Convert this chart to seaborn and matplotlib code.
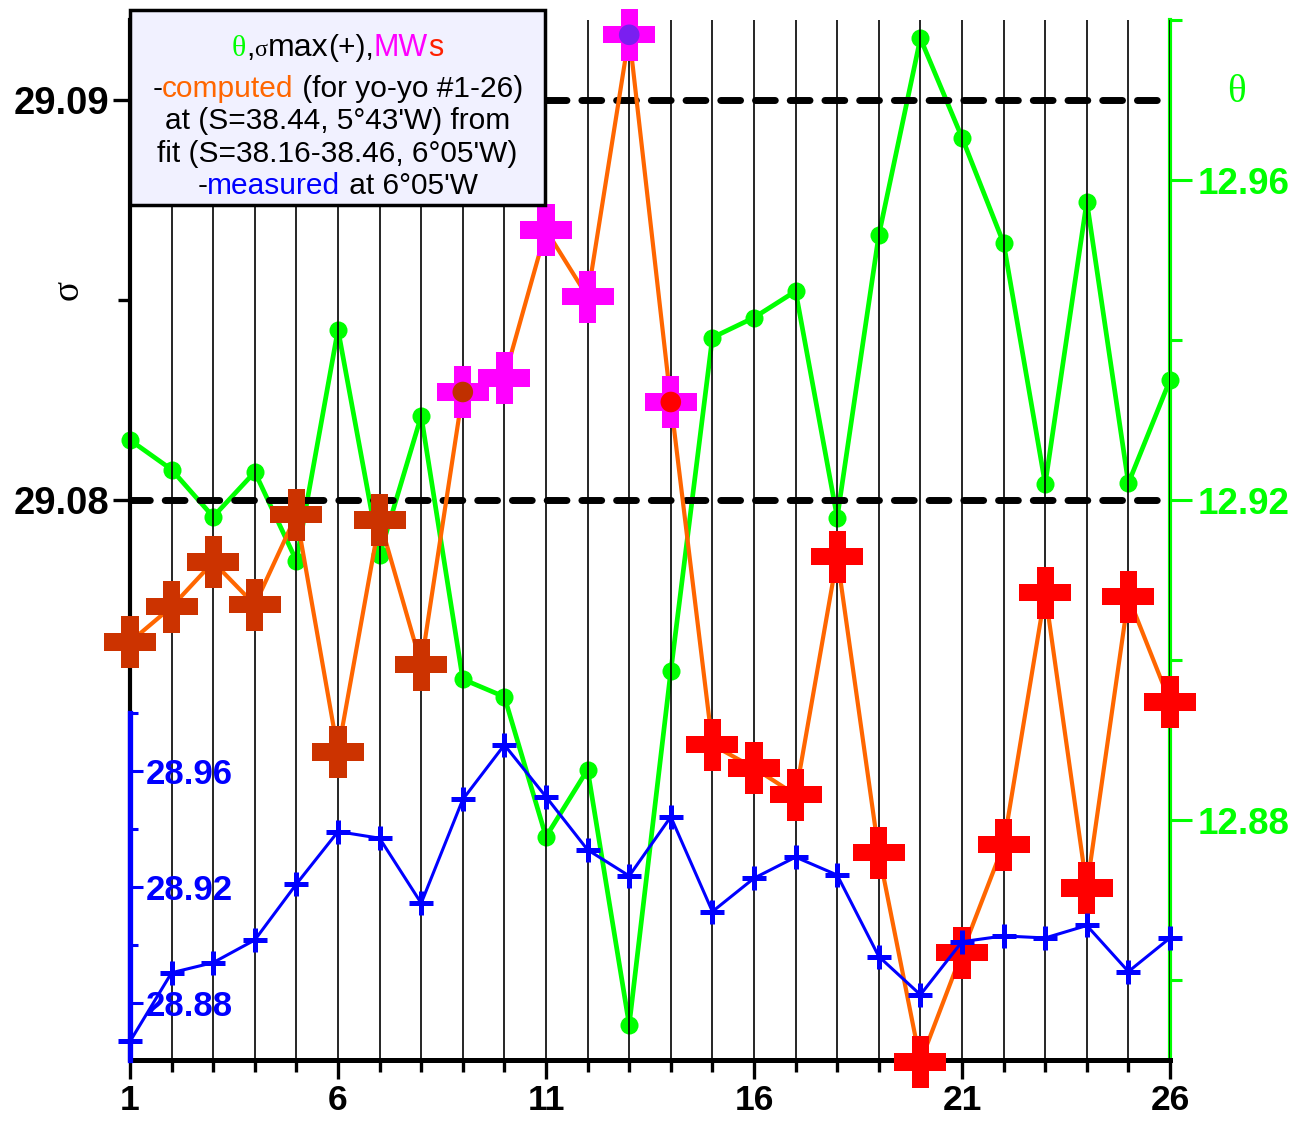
import matplotlib
matplotlib.use("Agg")
import matplotlib.pyplot as plt
import seaborn as sns
from matplotlib.offsetbox import TextArea, HPacker, AnchoredOffsetbox
from matplotlib.patches import Rectangle
from matplotlib.ticker import FixedLocator

# ---------------- data ----------------
yoyo = [1, 2, 3, 4, 5, 6, 7, 8, 9, 10, 11, 12, 13,
        14, 15, 16, 17, 18, 19, 20, 21, 22, 23, 24, 25, 26]
x_major_ticks = [1, 6, 11, 16, 21, 26]

sigma_computed = [29.07645, 29.07733, 29.07845, 29.07738, 29.07963, 29.07370,
                  29.07950, 29.07588, 29.08270, 29.08305, 29.08675, 29.08508,
                  29.09163, 29.08245, 29.07388, 29.07330, 29.07263, 29.07858,
                  29.07118, 29.06595, 29.06868, 29.07138, 29.07768, 29.07030,
                  29.07758, 29.07495]

theta = [12.9275, 12.9238, 12.9179, 12.9235, 12.9124, 12.9413, 12.9131,
         12.9305, 12.8976, 12.8954, 12.8779, 12.8863, 12.8544, 12.8986,
         12.9403, 12.9428, 12.9461, 12.9178, 12.9531, 12.9777, 12.9653,
         12.9521, 12.9220, 12.9573, 12.9221, 12.9350]

sigma_measured = [28.8667, 28.8904, 28.8939, 28.9017, 28.9210, 28.9391,
                  28.9368, 28.9144, 28.9502, 28.9690, 28.9511, 28.9328,
                  28.9238, 28.9442, 28.9115, 28.9230, 28.9303, 28.9241,
                  28.8960, 28.8828, 28.9011, 28.9031, 28.9024, 28.9067,
                  28.8908, 28.9024]

cross_class = ["a", "a", "a", "a", "a", "a", "a", "a",
               "MW", "MW", "MW", "MW", "MW", "MW",
               "b", "b", "b", "b", "b", "b", "b", "b", "b", "b", "b", "b"]
cross_palette = {"a": "#CC3300", "MW": "#FF00FF", "b": "#FF0000"}

dot_yoyo = [9, 13, 14]
dot_class = ["brown", "purple", "red"]
dot_palette = {"brown": "#C03000", "purple": "#7A1FF0", "red": "#FF0000"}

sigma_ref_lines = [29.08, 29.09]
sigma_ticks = [29.08, 29.09]
sigma_minor = [29.085]
theta_ticks = [12.88, 12.92, 12.96]
theta_minor = [12.86, 12.90, 12.94, 12.98]
meas_ticks = [28.88, 28.92, 28.96]
meas_minor = [28.90, 28.94, 28.98]

# ---------------- style ----------------
sns.set_theme(style="white")
plt.rcParams["font.family"] = ["Liberation Sans", "DejaVu Sans"]

W, H = 1303, 1122
fig = plt.figure(figsize=(W / 100, H / 100), dpi=100)
fig.patch.set_facecolor("white")

x0, x1, ytop, ybot = 130, 1170, 20, 1060
ax = fig.add_axes([x0 / W, 1 - ybot / H, (x1 - x0) / W, (ybot - ytop) / H])
ax2 = ax.twinx()
ax.set_zorder(ax2.get_zorder() + 1)
ax.patch.set_visible(False)

GREEN = "#00FF00"
BLUE = "#0000FF"
ORANGE = "#FF6600"

# theta (green, right axis)
sns.lineplot(x=yoyo, y=theta, ax=ax2, color=GREEN, lw=3.4, marker="o",
             markersize=13, markeredgecolor=GREEN, markeredgewidth=0,
             clip_on=False)
ax2.set_ylim(12.85, 12.98)
ax2.set_ylabel("")
ax2.yaxis.set_major_locator(FixedLocator(theta_ticks))
ax2.yaxis.set_minor_locator(FixedLocator(theta_minor))
ax2.set_yticklabels([f"{v:.2f}" for v in theta_ticks])
ax2.tick_params(axis="y", which="major", direction="out", length=16, width=2.2,
                colors=GREEN, labelsize=26.5, pad=4)
ax2.tick_params(axis="y", which="minor", direction="out", length=8.5, width=2.2,
                colors=GREEN)
for lab in ax2.get_yticklabels():
    lab.set_fontweight("bold")
for s in ["top", "left", "bottom"]:
    ax2.spines[s].set_visible(False)
ax2.spines["right"].set_color(GREEN)
ax2.spines["right"].set_linewidth(3)

# sigma computed (orange line + crosses)
for yv in sigma_ref_lines:
    ax.axhline(yv, color="black", lw=5, dashes=(2.85, 2.15),
               dash_capstyle="round", xmax=0.99, zorder=2)
sns.lineplot(x=yoyo, y=sigma_computed, ax=ax, color=ORANGE, lw=3, zorder=3)
sns.scatterplot(x=yoyo, y=sigma_computed, hue=cross_class, palette=cross_palette,
                marker="P", s=1400, linewidth=0, edgecolor="none", legend=False,
                ax=ax, zorder=4, clip_on=False)
dot_sigma = [sigma_computed[yoyo.index(v)] for v in dot_yoyo]
sns.scatterplot(x=dot_yoyo, y=dot_sigma, hue=dot_class, palette=dot_palette,
                marker="o", s=220, linewidth=0, edgecolor="none", legend=False,
                ax=ax, zorder=5, clip_on=False)

ax.set_xlim(1, 26)
ax.set_ylim(29.066, 29.092)
ax.set_xlabel("")
ax.set_ylabel("")
ax.xaxis.set_major_locator(FixedLocator(x_major_ticks))
ax.xaxis.set_minor_locator(FixedLocator(yoyo))
ax.set_xticklabels([str(v) for v in x_major_ticks])
ax.yaxis.set_major_locator(FixedLocator(sigma_ticks))
ax.yaxis.set_minor_locator(FixedLocator(sigma_minor))
ax.set_yticklabels([f"{v:.2f}" for v in sigma_ticks])
ax.grid(False)
ax.grid(True, which="both", axis="x", color="black", lw=1.2, zorder=1)
ax.tick_params(axis="x", which="major", direction="out", length=14, width=2.4,
               colors="black", labelsize=25.5, pad=3, bottom=True)
ax.tick_params(axis="x", which="minor", direction="out", length=8.5, width=2.4,
               colors="black", bottom=True)
ax.tick_params(axis="y", which="major", direction="out", length=12, width=2.4,
               colors="black", labelsize=27.5, pad=3, left=True)
ax.tick_params(axis="y", which="minor", direction="out", length=8.5, width=2.4,
               colors="black", left=True)
for lab in ax.get_xticklabels() + ax.get_yticklabels():
    lab.set_fontweight("bold")
for s in ["top", "right"]:
    ax.spines[s].set_visible(False)
ax.spines["left"].set_color("black")
ax.spines["left"].set_linewidth(3)
ax.spines["bottom"].set_color("black")
ax.spines["bottom"].set_linewidth(3.6)

# sigma measured (blue, inset axis)
axb = ax.inset_axes([0, 0, 1, (ybot - 713) / (ybot - ytop)])
axb.patch.set_visible(False)
sns.lineplot(x=yoyo, y=sigma_measured, ax=axb, color=BLUE, lw=2.2, marker="+",
             markersize=17, markeredgecolor=BLUE, markeredgewidth=3.6,
             clip_on=False)
axb.set_xlim(1, 26)
axb.set_ylim(28.8603, 28.98)
axb.set_xlabel("")
axb.set_ylabel("")
axb.set_xticks([])
axb.yaxis.set_major_locator(FixedLocator(meas_ticks))
axb.yaxis.set_minor_locator(FixedLocator(meas_minor))
axb.set_yticklabels([f"{v:.2f}" for v in meas_ticks])
axb.tick_params(axis="y", which="major", direction="in", length=9.5, width=2.2,
                colors=BLUE, labelsize=25, pad=-11.5, left=True)
axb.tick_params(axis="y", which="minor", direction="in", length=6, width=2.2,
                colors=BLUE, left=True)
for lab in axb.get_yticklabels():
    lab.set_fontweight("bold")
    lab.set_horizontalalignment("left")
for s in ["top", "right", "bottom"]:
    axb.spines[s].set_visible(False)
axb.spines["left"].set_color(BLUE)
axb.spines["left"].set_linewidth(3.8)
axb.grid(False)

# axis symbols
fig.text(68 / W, 1 - 290 / H, "σ", rotation=90, ha="center", va="center",
         family=["Liberation Serif", "DejaVu Serif"], fontsize=27, color="black")
fig.text(1236 / W, 1 - 92 / H, "θ", ha="center", va="center",
         family=["Liberation Serif", "DejaVu Serif"], fontsize=28, color=GREEN)

# legend box
rect = Rectangle((130 / W, 1 - 205 / H), 415 / W, 195 / H,
                 transform=fig.transFigure, facecolor="#F1F1FF",
                 edgecolor="black", lw=2.5, zorder=10)
fig.add_artist(rect)

FS = 21.5
SERIF = ["Liberation Serif", "DejaVu Serif"]
SANS = ["Liberation Sans", "DejaVu Sans"]


def line(parts, yc):
    boxes = []
    for txt, col, fam, size in parts:
        boxes.append(TextArea(txt, textprops=dict(color=col, family=fam,
                                                  fontsize=size)))
    hp = HPacker(children=boxes, align="baseline", pad=0, sep=0)
    ab = AnchoredOffsetbox(loc="center", child=hp, pad=0, borderpad=0,
                           frameon=False,
                           bbox_to_anchor=(337.5 / W, 1 - yc / H),
                           bbox_transform=fig.transFigure)
    ab.set_zorder(11)
    fig.add_artist(ab)


line([("θ", GREEN, SERIF, FS), (",", "black", SANS, FS),
      ("σ", "black", SERIF, FS - 4), ("max", "black", SANS, FS + 1.5),
      ("(+),", "black", SANS, FS), ("MW", "#FF00FF", SANS, FS + 0.5),
      ("s", "#FF2000", SANS, FS + 0.5)], 48)
line([("-", "black", SANS, FS), ("computed", ORANGE, SANS, FS),
      (" (for yo-yo #1-26)", "black", SANS, FS)], 89)
line([("at (S=38.44, 5°43'W) from", "black", SANS, FS)], 121)
line([("fit (S=38.16-38.46, 6°05'W)", "black", SANS, FS)], 154)
line([("-", "black", SANS, FS), ("measured", BLUE, SANS, FS),
      (" at 6°05'W", "black", SANS, FS)], 186)

fig.savefig("out.png", dpi=100, facecolor="white")
